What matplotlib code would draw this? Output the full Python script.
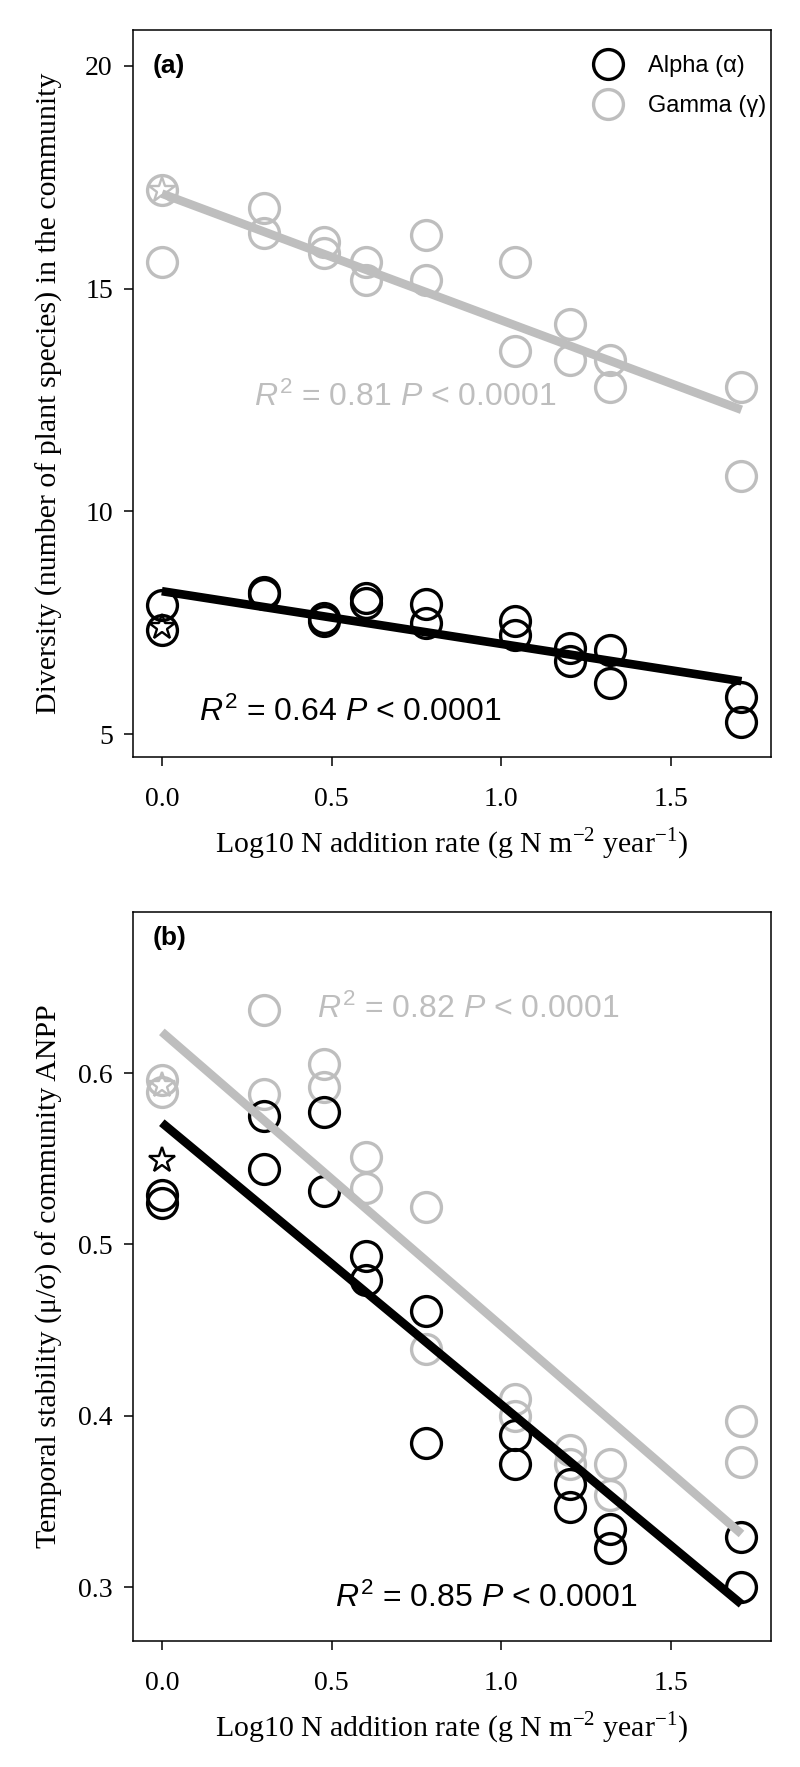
import numpy as np
import matplotlib
matplotlib.use('Agg')
from matplotlib import pyplot as plt
from matplotlib.lines import Line2D

plt.rcParams['font.family'] = ['Liberation Serif', 'DejaVu Serif']
plt.rcParams['mathtext.fontset'] = 'custom'
plt.rcParams['mathtext.it'] = 'Liberation Sans:italic'
plt.rcParams['mathtext.rm'] = 'Liberation Sans'

# log10 N addition rate levels (two plots per level)
x_levels = [0.0, 0.301, 0.477, 0.602, 0.778, 1.041, 1.204, 1.322, 1.708]

# panel (a): species diversity
gamma_div = [[17.2, 15.6], [16.8, 16.25], [16.05, 15.8], [15.6, 15.2], [16.2, 15.2],
             [15.6, 13.6], [14.2, 13.4], [13.4, 12.8], [12.8, 10.8]]
alpha_div = [[7.9, 7.35], [8.2, 8.15], [7.6, 7.55], [8.05, 7.95], [7.93, 7.49],
             [7.55, 7.22], [6.94, 6.64], [6.9, 6.16], [5.84, 5.28]]
gamma_div_ctrl = 17.2
alpha_div_ctrl = 7.4
fit_x = [0.0, 1.708]
gamma_div_fit = [17.13, 12.28]
alpha_div_fit = [8.21, 6.19]

# panel (b): temporal stability
gamma_stab = [[0.596, 0.589], [0.637, 0.588], [0.605, 0.592], [0.551, 0.533], [0.522, 0.439],
              [0.410, 0.400], [0.380, 0.372], [0.372, 0.354], [0.397, 0.373]]
alpha_stab = [[0.529, 0.524], [0.575, 0.544], [0.577, 0.531], [0.493, 0.479], [0.461, 0.384],
              [0.389, 0.372], [0.360, 0.347], [0.334, 0.323], [0.329, 0.300]]
gamma_stab_ctrl = 0.593
alpha_stab_ctrl = 0.549
gamma_stab_fit = [0.624, 0.331]
alpha_stab_fit = [0.571, 0.290]

GREY = '#BEBEBE'
SANS = ['Liberation Sans', 'DejaVu Sans']
MS = 21.5
MEW = 2.4


def expand(levels, vals):
    xs, ys = [], []
    for x, pair in zip(levels, vals):
        for v in pair:
            xs.append(x)
            ys.append(v)
    return np.array(xs), np.array(ys)


def draw_panel(ax, gamma, alpha, g_ctrl, a_ctrl, g_fit, a_fit):
    gx, gy = expand(x_levels, gamma)
    axx, ay = expand(x_levels, alpha)
    kw = dict(ls='none', marker='o', ms=MS, mfc='none', mew=MEW)
    ax.plot(gx, gy, mec=GREY, **kw)
    ax.plot(axx, ay, mec='black', **kw)
    ax.plot([0.0], [g_ctrl], ls='none', marker='*', ms=19, mfc='none', mec=GREY, mew=1.7)
    ax.plot([0.0], [a_ctrl], ls='none', marker='*', ms=19, mfc='none', mec='black', mew=1.7)
    ax.plot(fit_x, g_fit, color=GREY, lw=6.2, solid_capstyle='butt')
    ax.plot(fit_x, a_fit, color='black', lw=6.2, solid_capstyle='butt')
    ax.set_xlim(-0.085, 1.795)
    ax.set_xticks([0.0, 0.5, 1.0, 1.5])
    ax.set_xticklabels(['0.0', '0.5', '1.0', '1.5'])
    ax.tick_params(direction='out', length=6.5, width=1.1, labelsize=20)
    ax.tick_params(axis='x', pad=15)
    ax.tick_params(axis='y', pad=8)
    for s in ax.spines.values():
        s.set_linewidth(1.1)
    ax.set_xlabel(r'Log10 N addition rate (g N m$^{\mathregular{-2}}$ year$^{\mathregular{-1}}$)',
                  fontsize=21.5, labelpad=10)


fig = plt.figure(figsize=(8, 17.67), dpi=100)
ax_a = fig.add_axes([0.16625, 0.5716, 0.7975, 0.4114])
ax_b = fig.add_axes([0.16625, 0.0713, 0.7975, 0.4126])

draw_panel(ax_a, gamma_div, alpha_div, gamma_div_ctrl, alpha_div_ctrl, gamma_div_fit, alpha_div_fit)
ax_a.set_ylim(4.49, 20.8)
ax_a.set_yticks([5, 10, 15, 20])
ax_a.set_ylabel('Diversity (number of plant species) in the community', fontsize=21.5)
ax_a.yaxis.set_label_coords(-0.11, 0.5)
ax_a.text(0.031, 0.951, '(a)', transform=ax_a.transAxes, family=SANS, fontweight='bold',
          fontsize=19, va='center', ha='left')
ax_a.text(0.19, 0.495, r'$\mathit{R}^{2}$ = 0.81 $\mathit{P}$ < 0.0001', transform=ax_a.transAxes,
          family=SANS, fontsize=23, color=GREY, va='center', ha='left')
ax_a.text(0.104, 0.062, r'$\mathit{R}^{2}$ = 0.64 $\mathit{P}$ < 0.0001', transform=ax_a.transAxes,
          family=SANS, fontsize=23, color='black', va='center', ha='left')
handles = [Line2D([], [], ls='none', marker='o', ms=MS, mfc='none', mec='black', mew=MEW),
           Line2D([], [], ls='none', marker='o', ms=MS, mfc='none', mec=GREY, mew=MEW)]
ax_a.legend(handles, ['Alpha (\u03b1)', 'Gamma (\u03b3)'], loc='upper right',
            bbox_to_anchor=(1.0, 0.972), frameon=False,
            prop={'family': SANS, 'size': 17}, handletextpad=1.1, borderaxespad=0.0,
            borderpad=0.2, labelspacing=0.75, handlelength=1.2)

draw_panel(ax_b, gamma_stab, alpha_stab, gamma_stab_ctrl, alpha_stab_ctrl, gamma_stab_fit, alpha_stab_fit)
ax_b.set_ylim(0.2685, 0.694)
ax_b.set_yticks([0.3, 0.4, 0.5, 0.6])
ax_b.set_yticklabels(['0.3', '0.4', '0.5', '0.6'])
ax_b.set_ylabel('Temporal stability (\u03bc/\u03c3) of community ANPP', fontsize=21.5)
ax_b.yaxis.set_label_coords(-0.11, 0.5)
ax_b.text(0.031, 0.964, '(b)', transform=ax_b.transAxes, family=SANS, fontweight='bold',
          fontsize=19, va='center', ha='left')
ax_b.text(0.288, 0.866, r'$\mathit{R}^{2}$ = 0.82 $\mathit{P}$ < 0.0001', transform=ax_b.transAxes,
          family=SANS, fontsize=23, color=GREY, va='center', ha='left')
ax_b.text(0.317, 0.059, r'$\mathit{R}^{2}$ = 0.85 $\mathit{P}$ < 0.0001', transform=ax_b.transAxes,
          family=SANS, fontsize=23, color='black', va='center', ha='left')

fig.savefig('out.png', dpi=100)
